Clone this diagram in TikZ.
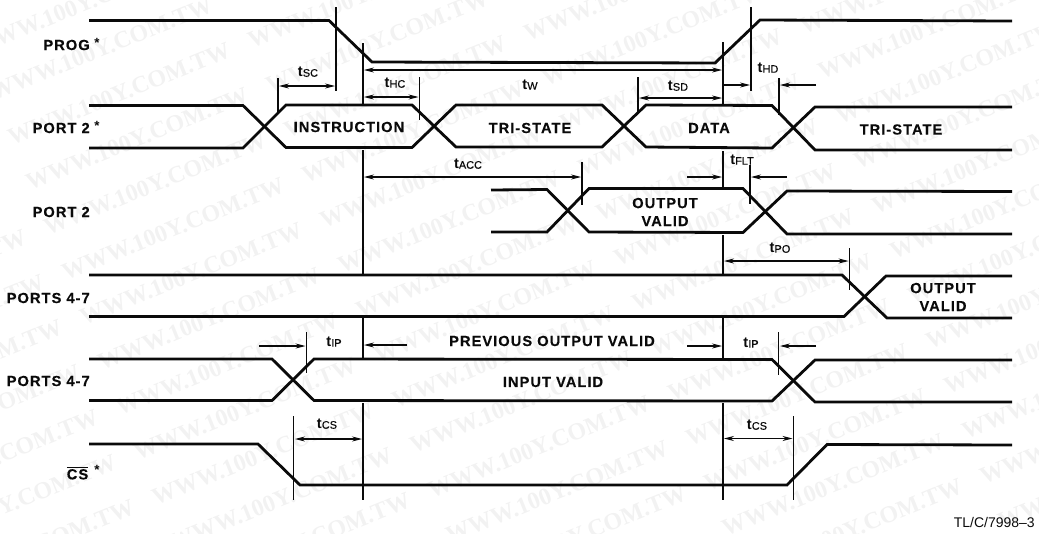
\documentclass[tikz,border=0pt]{standalone}
\usepackage{fontspec}
\setmainfont{Liberation Sans}
\newfontfamily\lblfont[LetterSpace=7,FakeBold=0.25]{Liberation Sans Bold}
\newfontfamily\subfont[FakeBold=0.3]{Liberation Sans}
\newfontfamily\wmfont{Liberation Serif Bold}
\usetikzlibrary{arrows.meta}
\definecolor{wm}{gray}{0.95}
\definecolor{ink}{gray}{0.04}
\newcommand{\tname}[1]{{\fontsize{11pt}{12pt}\selectfont\bfseries t}{\subfont\fontsize{8.2pt}{9pt}\selectfont #1}}
\tikzset{
  x=0.75pt,y=-0.75pt,
  wave/.style={ink,line width=2.1pt,line join=miter},
  guide/.style={ink,line width=0.9pt},
  dim/.style={ink,line width=0.85pt},
  arr/.style={dim,-{Stealth[length=7.5pt,width=3.8pt]}},
  arrs/.style={dim,{Stealth[length=7.5pt,width=3.8pt]}-{Stealth[length=7.5pt,width=3.8pt]}},
  sig/.style={ink,inner sep=0pt,font=\lblfont\fontsize{11pt}{12pt}\selectfont,anchor=east},
  lab/.style={ink,inner sep=0pt,font=\lblfont\fontsize{11pt}{13.5pt}\selectfont,align=center},
  tm/.style={ink,inner sep=0pt},
  star/.style={ink,inner sep=0pt,font=\bfseries\fontsize{10pt}{10pt}\selectfont},
  water/.style={wm,inner sep=0pt,rotate=22,font=\wmfont\fontsize{18pt}{19pt}\selectfont},
}
\begin{document}
\begin{tikzpicture}
\useasboundingbox (0,0) rectangle (1039,533);
% watermark
\foreach \r in {-12,...,16}{
  \foreach \c in {-6,...,6}{
    \pgfmathsetmacro{\wx}{521+\c*240+\r*18}
    \pgfmathsetmacro{\wy}{402-\c*97+\r*45}
    \pgfmathtruncatemacro{\wok}{(\wx>-90)&&(\wx<1130)&&(\wy>-40)&&(\wy<575)?1:0}
    \ifnum\wok=1
      \node[water] (w\r c\c) at (\wx,\wy) {WWW.100Y.COM.TW};
    \fi
  }
}
% guides
\draw[guide] (336,7) -- (336,91);
\draw[guide] (363,43) -- (363,104);
\draw[guide] (363,150) -- (363,275);
\draw[guide] (363,317) -- (363,358);
\draw[guide] (363,403) -- (363,500);
\draw[guide] (723,42) -- (723,104);
\draw[guide] (723,151) -- (723,189);
\draw[guide] (723,235) -- (723,275);
\draw[guide] (723,318) -- (723,358);
\draw[guide] (723,403) -- (723,500);
\draw[guide] (751,7) -- (751,91);
\draw[guide] (278,78) -- (278,113);
\draw[guide] (419.5,77) -- (419.5,120);
\draw[guide] (638,77) -- (638,112);
\draw[guide] (779,78) -- (779,115);
\draw[guide] (582,162) -- (582,205);
\draw[guide] (750,165) -- (750,204);
\draw[guide] (849.5,248) -- (849.5,290);
\draw[guide] (306.5,332) -- (306.5,373);
\draw[guide] (778.5,332) -- (778.5,375);
\draw[guide] (293.5,416) -- (293.5,500);
\draw[guide] (793.5,416) -- (793.5,500);
% waves
\draw[wave] (89,20.5) -- (329,20.5) -- (372,62) -- (715,63) -- (760,20) -- (1012,21);
\draw[wave] (89,105.5) -- (243,105.5) -- (286,147.5) -- (412,147.5) -- (456,105) -- (602,105) -- (646,147) -- (772,148) -- (815,107) -- (1012,107);
\draw[wave] (89,148) -- (243,148) -- (286,105) -- (412,105) -- (456,147) -- (602,147) -- (646,105) -- (772,105.5) -- (815,150) -- (1012,150);
\draw[wave] (491,190) -- (547,189.5) -- (589,232) -- (743,232.5) -- (787,191) -- (1012,191.5);
\draw[wave] (491,232) -- (547,232) -- (589,188.5) -- (743,188.5) -- (787,234) -- (1012,234);
\draw[wave] (89,275) -- (842,275) -- (887,318) -- (1012,318);
\draw[wave] (89,316.5) -- (844,316.5) -- (886,276) -- (1012,276);
\draw[wave] (89,359) -- (272,359) -- (314,400.5) -- (772,401) -- (815,360) -- (1012,360);
\draw[wave] (89,400.5) -- (272,400.5) -- (314,359) -- (772,359.5) -- (815,402) -- (1012,402);
\draw[wave] (89,444) -- (258,444) -- (300,485) -- (787,485) -- (827,444.5) -- (1012,445);
% dimensions
\draw[arrs] (364,70) -- (722,70);
\draw[arrs] (279,86) -- (335,86);
\draw[arrs] (364,97) -- (418.5,97);
\draw[arrs] (639,98) -- (722,98);
\draw[arr] (724,85) -- (750,85);
\draw[arr] (816,85) -- (780,85);
\draw[arrs] (364,177) -- (581,177);
\draw[arr] (687,177) -- (722,177);
\draw[arr] (787,177) -- (751,177);
\draw[arrs] (724,261) -- (848.5,261);
\draw[arr] (259,346) -- (305.5,346);
\draw[arr] (407,345) -- (364,345);
\draw[arr] (687,346) -- (722,346);
\draw[arr] (816,346) -- (780,346);
\draw[arrs] (295,439) -- (362,439);
\draw[arrs] (724,438.5) -- (792.5,438.5);
% signal names
\node[sig] (nprog) at (90,45) {PROG};
\node[star] (sprog) at (97,43) {*};
\node[sig] (nport) at (90,128) {PORT 2};
\node[star] (sport) at (97,126) {*};
\node[sig] (nportb) at (90,212) {PORT 2};
\node[sig] (nporta) at (90,298) {PORTS 4-7};
\node[sig] (nportc) at (90,381) {PORTS 4-7};
\node[sig] (ncs) at (88.5,473) {$\overline{\mbox{CS}}$};
\node[star] (scs) at (97,470) {*};
% labels in waves
\node[lab] (linst) at (349,127) {INSTRUCTION};
\node[lab] (ltri) at (530,128) {TRI-STATE};
\node[lab] (ldata) at (709,128) {DATA};
\node[lab] (ltrib) at (901,129.5) {TRI-STATE};
\node[lab] (lout) at (665,212) {OUTPUT\\VALID};
\node[lab] (loutb) at (943,297) {OUTPUT\\VALID};
\node[lab] (lprev) at (552,341) {PREVIOUS OUTPUT VALID};
\node[lab] (linp) at (553,382) {INPUT VALID};
% timing names
\node[tm] (tsc) at (308,72) {\tname{SC}};
\node[tm] (thc) at (395,83) {\tname{HC}};
\node[tm] (tw) at (530,85) {\tname{W}};
\node[tm] (tsd) at (678,86) {\tname{SD}};
\node[tm] (thd) at (768,68) {\tname{HD}};
\node[tm] (tacc) at (468,164) {\tname{ACC}};
\node[tm] (tflt) at (742,160) {\tname{FLT}};
\node[tm] (tpo) at (780,248) {\tname{PO}};
\node[tm] (tipa) at (334,342) {\tname{IP}};
\node[tm] (tipb) at (751,343) {\tname{IP}};
\node[tm] (tcsa) at (327,424) {\tname{CS}};
\node[tm] (tcsb) at (757,425) {\tname{CS}};
\node[ink,inner sep=0pt,anchor=east,font=\fontsize{10.5pt}{12pt}\selectfont] (code) at (1035,522) {TL/C/7998--3};
\end{tikzpicture}
\end{document}
